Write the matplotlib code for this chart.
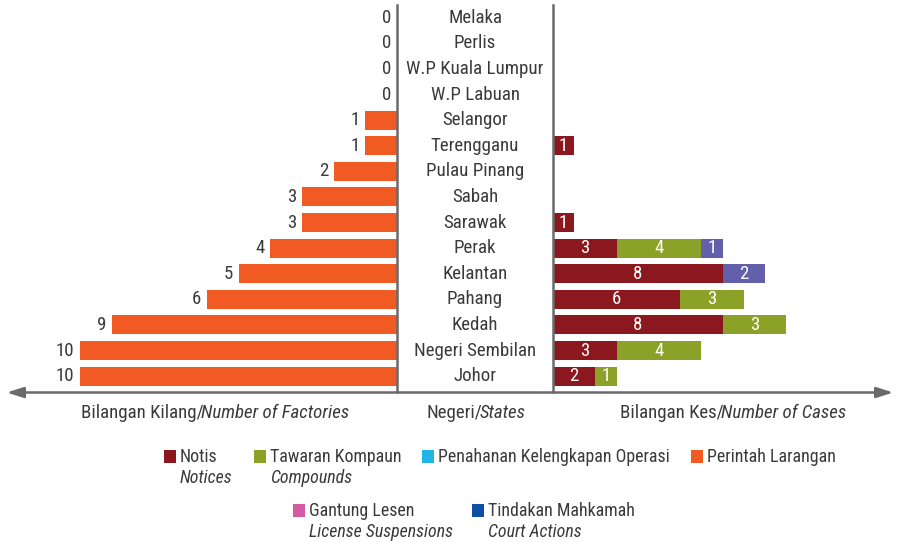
import numpy as np
import matplotlib.pyplot as plt
from matplotlib.patches import FancyArrowPatch, Rectangle
from matplotlib.transforms import blended_transform_factory

plt.rcParams['font.family'] = ['Roboto Condensed', 'Lato', 'DejaVu Sans']

states = ['Melaka', 'Perlis', 'W.P Kuala Lumpur', 'W.P Labuan', 'Selangor', 'Terengganu',
          'Pulau Pinang', 'Sabah', 'Sarawak', 'Perak', 'Kelantan', 'Pahang', 'Kedah',
          'Negeri Sembilan', 'Johor']
factories = [0, 0, 0, 0, 1, 1, 2, 3, 3, 4, 5, 6, 9, 10, 10]
notis = [0, 0, 0, 0, 0, 1, 0, 0, 1, 3, 8, 6, 8, 3, 2]
kompaun = [0, 0, 0, 0, 0, 0, 0, 0, 0, 4, 0, 3, 3, 4, 1]
mahkamah = [0, 0, 0, 0, 0, 0, 0, 0, 0, 1, 2, 0, 0, 0, 0]

ORANGE = '#F15A22'
RED = '#8A181E'
GREEN = '#8BA128'
PURPLE = '#6260AB'
TXT = '#3a3a3a'
LINE = '#6a6a6a'
FS = 13.6
FS_LEG = 12.9

W, H = 897, 542
fig = plt.figure(figsize=(W / 100, H / 100), dpi=100)


def px_box(x0, y0, x1, y1):
    return [x0 / W, 1 - y1 / H, (x1 - x0) / W, (y1 - y0) / H]


axL = fig.add_axes(px_box(5, 5, 397, 392))
axR = fig.add_axes(px_box(553, 5, 893, 392))

y = np.arange(len(states))
ylim = (14.62, -0.5)
bar_h = 0.74

# left panel: factories, growing leftwards
axL.barh(y, factories, height=bar_h, color=ORANGE)
axL.set_xlim(392 / 31.7, 0)
for i, v in enumerate(factories):
    axL.annotate(str(v), (v, i), xytext=(-4, 0), textcoords='offset points',
                 ha='right', va='center', fontsize=FS, color=TXT)

# right panel: stacked cases
left = np.zeros(len(states))
for vals, col in [(notis, RED), (kompaun, GREEN), (mahkamah, PURPLE)]:
    vals = np.array(vals)
    axR.barh(y, vals, left=left, height=bar_h, color=col)
    for i, v in enumerate(vals):
        if v > 0:
            axR.text(left[i] + v / 2, i, str(v), ha='center', va='center',
                     fontsize=FS, color='white')
    left += vals
axR.set_xlim(0, 340 / 21.2)

for ax in (axL, axR):
    ax.set_ylim(*ylim)
    ax.set_xticks([])
    ax.set_yticks([])
    for s in ax.spines.values():
        s.set_visible(False)
axL.spines['right'].set_visible(True)
axR.spines['left'].set_visible(True)
for s in (axL.spines['right'], axR.spines['left']):
    s.set_color(LINE)
    s.set_linewidth(1.8)

# state names in the middle column
tr = blended_transform_factory(fig.transFigure, axL.transData)
for i, name in enumerate(states):
    fig.text(475 / W, i, name, transform=tr, ha='center', va='center',
             fontsize=FS, color=TXT)

# baseline arrow
ya = 1 - 392.5 / H
fig.add_artist(FancyArrowPatch((4 / W, ya), (896 / W, ya), transform=fig.transFigure,
                               arrowstyle='<|-|>,head_length=1.0,head_width=0.32',
                               mutation_scale=10, lw=1.8, color=LINE))

renderer = fig.canvas.get_renderer()


def mixed(xc, yc, parts):
    texts = []
    for s, style in parts:
        texts.append(fig.text(0, 1 - yc / H, s, style=style, va='center',
                              ha='left', fontsize=FS, color=TXT))
    widths = [t.get_window_extent(renderer).width - 2 for t in texts]
    x = xc - sum(widths) / 2
    for t, w in zip(texts, widths):
        t.set_x(x / W)
        x += w


mixed(214, 413, [('Bilangan Kilang/', 'normal'), ('Number of Factories', 'italic')])
mixed(475, 413, [('Negeri/', 'normal'), ('States', 'italic')])
mixed(732, 413, [('Bilangan Kes/', 'normal'), ('Number of Cases', 'italic')])

# legend
legend_items = [
    (164, 450, '#8A181E', 'Notis', 'Notices'),
    (254, 450, '#8BA128', 'Tawaran Kompaun', 'Compounds'),
    (422, 450, '#22B4E6', 'Penahanan Kelengkapan Operasi', None),
    (691, 450, '#F15A22', 'Perintah Larangan', None),
    (293, 504, '#D35BA6', 'Gantung Lesen', 'License Suspensions'),
    (472, 504, '#0E4FA3', 'Tindakan Mahkamah', 'Court Actions'),
]
for x0, y0, col, malay, eng in legend_items:
    fig.add_artist(Rectangle((x0 / W, 1 - (y0 + 13) / H), 12 / W, 13 / H,
                             transform=fig.transFigure, color=col, lw=0))
    fig.text((x0 + 16) / W, 1 - (y0 + 7) / H, malay, ha='left', va='center',
             fontsize=FS_LEG, color=TXT)
    if eng:
        fig.text((x0 + 16) / W, 1 - (y0 + 28) / H, eng, ha='left', va='center',
                 fontsize=FS_LEG, color=TXT, style='italic')

fig.savefig('out.png', dpi=100)
